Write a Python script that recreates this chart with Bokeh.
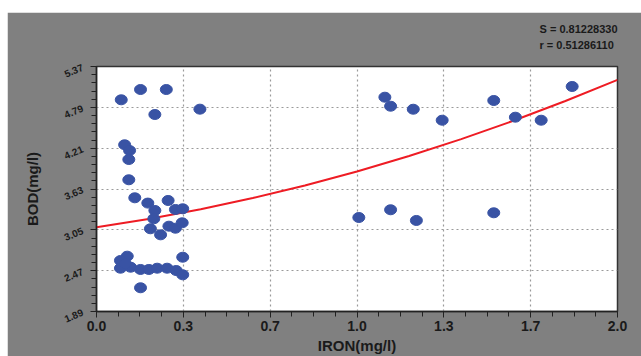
from bokeh.plotting import figure
from bokeh.models import FixedTicker, PrintfTickFormatter, Spacer, Title
from bokeh.layouts import column, row
from bokeh.embed import file_html
from bokeh.resources import INLINE

# ---- data ----
iron = [0.095, 0.169, 0.268, 0.224, 0.397,
        0.108, 0.127, 0.124, 0.124, 0.147, 0.197, 0.275, 0.224, 0.220,
        0.303, 0.331, 0.207, 0.246, 0.278, 0.303, 0.329,
        0.118, 0.092, 0.092, 0.131, 0.169, 0.201, 0.233, 0.271, 0.306,
        0.331, 0.331, 0.169, 0.111,
        1.107, 1.129, 1.216, 1.327, 1.525, 1.608, 1.707, 1.826,
        1.007, 1.129, 1.228, 1.525]
bod = [4.897, 5.043, 5.043, 4.688, 4.764,
       4.258, 4.177, 4.049, 3.761, 3.505, 3.430, 3.467, 3.325, 3.207,
       3.339, 3.349, 3.065, 2.979, 3.102, 3.073, 3.150,
       2.676, 2.614, 2.505, 2.519, 2.487, 2.487, 2.505, 2.505, 2.472,
       2.411, 2.661, 2.227, 2.567,
       4.934, 4.806, 4.763, 4.607, 4.887, 4.650, 4.607, 5.086,
       3.225, 3.335, 3.183, 3.292]

fit_iron = [0.0, 0.2, 0.4, 0.6, 0.8, 1.0, 1.2, 1.4, 1.6, 1.8, 2.0]
fit_bod = [3.087, 3.205, 3.343, 3.501, 3.680, 3.879, 4.099, 4.339, 4.599, 4.880, 5.181]

x_ticks = [0.0, 1/3, 2/3, 1.0, 4/3, 5/3, 2.0]
y_ticks = [1.89, 2.47, 3.05, 3.63, 4.21, 4.79, 5.37]
stats_lines = ["S = 0.81228330", "r = 0.51286110"]
x_title = "IRON(mg/l)"
y_title = "BOD(mg/l)"

FONT = "Liberation Sans"
TXT = "#1a1a1a"
PANEL = "#808080"

p = figure(width=634, height=344, x_range=(0, 2), y_range=(1.89, 5.37),
           output_backend="svg", toolbar_location=None, title=None,
           min_border_left=89, min_border_right=24, min_border_top=54,
           min_border_bottom=45)
p.border_fill_color = PANEL
p.background_fill_color = "white"
p.outline_line_color = "#333333"
p.outline_line_width = 1.5

x_minor = [i / 12 for i in range(25)]
y_minor = [1.89 + i * 0.116 for i in range(31)]
p.xaxis.ticker = FixedTicker(ticks=x_ticks, minor_ticks=x_minor)
p.yaxis.ticker = FixedTicker(ticks=y_ticks, minor_ticks=y_minor)
p.xaxis.formatter = PrintfTickFormatter(format="%.1f")
p.yaxis.formatter = PrintfTickFormatter(format="%.2f")

for ax in (p.xaxis, p.yaxis):
    ax.axis_line_color = "#222222"
    ax.axis_line_width = 1.5
    ax.major_tick_line_color = "#222222"
    ax.minor_tick_line_color = "#222222"
    ax.major_tick_in = 0
    ax.major_tick_out = 6
    ax.minor_tick_in = 0
    ax.minor_tick_out = 5
    ax.major_label_text_font = FONT
    ax.major_label_text_font_style = "bold"
    ax.major_label_text_color = TXT
    ax.axis_label_text_font = FONT
    ax.axis_label_text_font_style = "bold"
    ax.axis_label_text_font_size = "15px"
    ax.axis_label_text_color = TXT

p.xaxis.major_label_text_font_size = "14px"
p.xaxis.major_label_standoff = 3
p.xaxis.axis_label = x_title
p.xaxis.axis_label_standoff = 3

p.yaxis.major_label_text_font_size = "10px"
p.yaxis.major_label_orientation = 0.4
p.yaxis.major_label_standoff = 8
p.yaxis.axis_label = y_title
p.yaxis.axis_label_standoff = 17

p.grid.grid_line_color = "#9a9a9a"
p.grid.grid_line_dash = "2 3"
p.grid.grid_line_width = 1.2

p.line(fit_iron, fit_bod, line_color="#ee1c24", line_width=2)
p.ellipse(iron, bod, width=12, height=10, width_units="screen",
          height_units="screen", fill_color="#3953a4", line_color="#3953a4")

# blank spacer title (same colour as the panel) between frame and statistics
p.add_layout(Title(text="\u00a0", standoff=12, text_font_size="1px",
                   text_color=PANEL), "above")
p.add_layout(Title(text="\n".join(stats_lines), align="right", standoff=0,
                   text_font=FONT, text_font_style="bold",
                   text_font_size="11px", text_line_height=1.4,
                   text_color=TXT), "above")

layout = column(Spacer(height=12), row(Spacer(width=7), p))
open("out.html", "w").write(file_html(layout, INLINE))
